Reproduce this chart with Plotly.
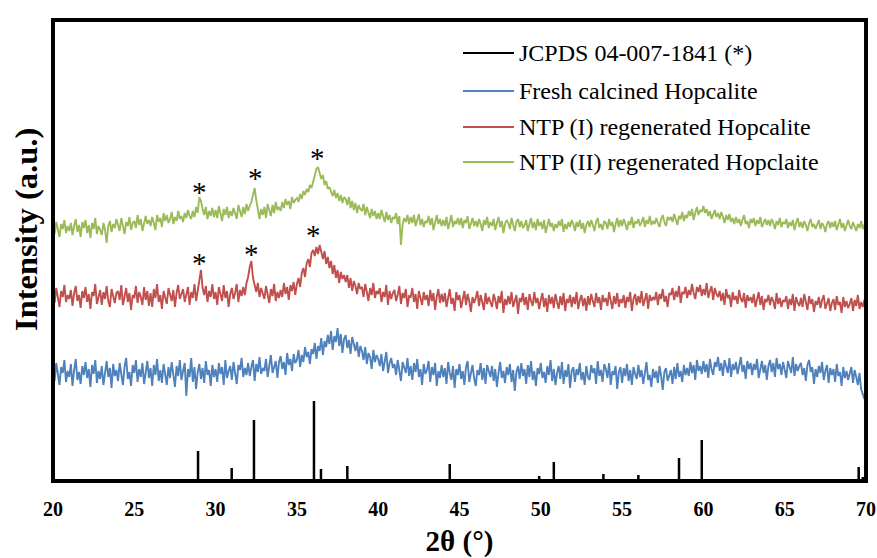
import numpy as np
import plotly.graph_objects as go

# 2-theta sampling grid (degrees), 0.1 degree step
two_theta = np.round(np.arange(20.0, 70.0001, 0.1), 1)

# JCPDS 04-007-1841 reference lines (position, relative height)
jcpds_pos = [28.92, 30.99, 32.36, 36.05, 36.48, 38.1, 44.4, 49.9, 50.8, 53.85, 56.0,
             58.5, 59.9, 60.8, 63.3, 64.6, 65.4, 67.8, 69.55, 69.8]
jcpds_int = [30, 13, 61, 80, 12, 15, 17, 5, 19, 7, 6, 23, 41, 2, 2, 2, 1.5, 2, 14, 4]

fresh = [
    112,100,118,105,96,114,108,121,99,110,
    104,117,95,111,122,101,109,97,115,106,
    119,103,112,94,116,107,121,98,110,102,
    115,96,108,120,104,113,93,117,105,111,
    100,118,107,96,114,123,102,109,95,116,
    108,121,99,112,104,118,97,110,120,103,
    113,95,116,106,122,100,111,98,117,107,
    96,114,103,119,108,94,115,105,121,101,
    110,118,85,112,104,123,99,114,92,109,
    117,102,113,98,120,106,111,95,116,104,
    112,99,118,107,114,96,121,103,110,115,
    101,119,108,97,116,111,123,104,113,106,
    118,105,114,121,100,117,109,124,107,113,
    110,122,104,118,126,108,115,120,103,119,
    125,112,119,106,128,116,122,110,127,118,
    121,131,114,126,119,134,124,129,117,132,
    127,138,122,135,130,143,126,140,134,146,
    137,150,131,145,139,153,135,147,128,142,
    146,133,141,127,144,136,130,139,124,135,
    130,121,134,117,128,124,112,131,119,126,
    122,115,127,110,120,129,108,118,123,113,
    117,106,121,111,100,119,114,108,123,105,
    115,101,118,109,122,104,112,96,117,107,
    111,120,99,114,106,118,95,110,103,116,
    104,113,97,119,108,101,115,93,112,106,
    117,102,110,96,114,120,99,108,116,103,
    95,111,106,118,101,113,97,116,109,104,
    115,100,112,94,108,119,103,110,98,114,
    106,117,99,111,90,109,115,102,118,105,
    112,97,116,104,120,101,110,95,113,107,
    118,103,109,98,115,106,121,100,112,96,
    108,115,102,119,97,111,104,117,93,110,
    114,99,112,106,118,101,109,96,115,104,
    101,116,108,113,97,120,105,111,99,117,
    112,103,118,96,110,106,115,92,109,114,
    98,113,105,117,100,111,96,114,107,102,
    116,104,111,97,108,119,101,106,94,112,
    103,110,98,115,105,91,109,113,100,107,
    111,97,114,102,118,104,110,99,116,106,
    113,105,119,108,116,101,121,110,115,107,
    120,109,117,103,122,112,106,119,114,124,
    110,118,105,121,113,108,123,104,117,111,
    119,107,115,124,109,116,102,120,112,118,
    106,117,111,122,103,114,120,108,116,101,
    115,121,109,118,104,123,112,117,106,119,
    111,103,120,114,108,124,105,117,110,115,
    118,106,113,100,116,121,109,114,97,112,
    104,115,108,119,101,110,116,98,113,106,
    112,99,117,105,109,95,114,103,110,101,
    107,114,98,111,104,96,108,92,87,82,
    84,
]

ntp1 = [
    187,178,193,181,174,190,184,196,179,186,
    182,191,175,188,195,180,186,173,190,183,
    194,179,187,172,189,185,197,177,184,191,
    176,189,182,195,180,174,192,186,178,188,
    190,181,196,176,185,193,179,188,171,186,
    183,195,178,189,184,176,194,181,190,175,
    188,174,192,183,197,179,186,172,190,184,
    177,193,185,180,191,174,188,196,182,187,
    192,179,186,194,176,189,183,197,180,191,
    205,211,193,186,195,179,190,184,197,182,
    189,176,194,185,180,196,183,190,174,187,
    193,182,188,197,179,191,185,194,186,198,
    204,214,220,203,195,189,198,184,193,187,
    182,195,188,178,192,185,197,180,189,183,
    191,184,198,187,194,181,196,190,199,186,
    197,203,194,208,213,204,218,222,214,228,
    231,225,234,227,236,229,222,230,217,224,
    213,220,207,216,203,211,198,209,202,206,
    199,206,193,203,190,200,195,187,198,192,
    194,184,197,189,180,193,186,198,183,190,
    187,193,179,189,184,196,176,190,182,188,
    191,180,186,195,177,188,183,192,174,185,
    184,193,179,187,172,190,182,176,189,181,
    186,175,191,180,188,171,184,192,178,187,
    179,188,174,185,192,177,183,170,189,181,
    186,173,182,190,176,187,180,169,184,178,
    183,190,175,186,179,171,188,177,184,180,
    174,187,181,172,185,178,190,168,182,176,
    185,177,189,174,181,186,167,183,179,188,
    176,184,171,187,180,175,189,178,183,172,
    181,188,174,183,169,186,177,184,173,187,
    179,172,185,176,188,170,182,178,186,174,
    184,177,189,172,181,186,175,183,170,185,
    176,187,180,174,188,178,184,171,186,179,
    183,175,189,181,172,185,177,188,174,182,
    178,186,173,184,179,189,170,182,187,176,
    185,178,190,175,183,188,172,186,180,184,
    181,189,176,187,182,192,179,185,174,188,
    186,193,181,190,184,195,178,189,187,194,
    183,191,186,197,188,182,194,189,196,185,
    192,186,198,183,190,195,181,193,187,184,
    190,180,188,176,192,183,186,174,189,181,
    185,177,191,182,179,188,173,186,180,184,
    178,187,174,183,189,176,185,171,182,179,
    186,176,184,180,172,188,177,183,174,181,
    179,185,172,182,176,187,170,184,178,175,
    183,174,187,179,171,185,177,182,169,180,
    176,184,173,181,186,172,179,183,170,178,
    182,171,185,176,179,168,184,174,180,173,
    177,183,170,181,175,186,172,179,174,181,
    176,
]

ntp2 = [
    254,247,259,250,244,257,252,261,248,255,
    250,258,246,255,262,249,256,244,259,253,
    261,248,256,243,258,252,263,247,255,251,
    246,258,251,238,255,260,249,257,253,262,
    256,250,263,254,247,259,255,264,251,258,
    260,253,266,256,262,250,258,265,257,261,
    255,264,258,251,266,259,263,254,268,260,
    266,258,262,269,257,264,260,270,262,265,
    259,268,263,271,265,262,270,264,274,268,
    284,280,272,266,274,262,270,265,273,264,
    271,263,275,267,260,272,266,274,263,270,
    265,273,268,262,276,269,264,274,267,277,
    270,275,279,286,293,281,270,262,272,266,
    274,263,277,270,265,276,268,279,271,274,
    270,279,273,282,276,280,272,284,278,281,
    283,279,287,282,290,286,292,289,296,293,
    299,304,312,314,308,302,306,296,300,292,
    294,289,285,291,283,288,280,286,278,284,
    282,276,284,273,280,271,278,268,276,272,
    270,277,266,274,268,263,272,265,270,262,
    268,262,271,264,259,269,261,266,258,264,
    262,268,257,265,236,256,263,259,266,257,
    264,258,266,255,261,267,256,262,254,260,
    258,265,256,263,251,260,266,257,262,255,
    261,255,264,252,259,266,254,260,257,263,
    256,263,253,261,258,265,252,259,263,255,
    260,254,262,257,250,261,256,264,253,259,
    255,262,251,258,264,254,260,248,257,261,
    258,252,263,256,250,259,262,254,260,253,
    256,261,250,257,263,253,259,251,262,255,
    259,252,261,248,256,262,254,258,250,257,
    253,260,255,262,249,257,252,259,254,261,
    257,250,259,254,261,252,258,248,256,260,
    254,261,256,250,259,263,253,257,251,260,
    258,252,262,255,259,249,257,263,254,261,
    255,262,257,251,260,256,264,253,259,258,
    262,255,259,264,254,261,257,265,256,260,
    257,263,258,254,262,266,259,255,264,261,
    264,259,267,261,256,265,262,269,260,266,
    263,270,265,272,261,268,274,266,271,269,
    275,268,272,265,270,262,267,271,264,268,
    262,269,264,258,266,261,267,259,263,257,
    264,258,262,255,261,266,257,260,253,262,
    258,263,255,261,257,264,254,259,262,256,
    261,255,262,258,252,260,256,263,254,259,
    257,262,253,259,255,261,251,258,263,254,
    259,253,260,256,250,258,262,254,257,252,
    256,261,252,258,255,249,257,260,253,259,
    254,260,251,257,262,253,258,250,256,261,
    255,252,259,254,250,257,253,260,252,256,
    255,
]

# asterisk markers (2theta, intensity) for the identified reflections
star_green_x = [29.04, 32.47, 36.28]
star_green_y = [289, 303, 323]
star_red_x = [28.98, 32.2, 36.05]
star_red_y = [218, 227, 246]

series_names = ["JCPDS 04-007-1841 (*)", "Fresh calcined Hopcalite",
                "NTP (I) regenerated Hopcalite", "NTP (II) regenerated Hopclaite"]
colors = ["#000000", "#4F81BD", "#C0504D", "#9BBB59"]

FONT = "Liberation Serif, Times New Roman, serif"

X_RANGE = [20, 70]
Y_RANGE = [0, 461]

# legend rows (paper y of each entry centre)
legend_rows_y = [0.9284, 0.8460, 0.7679, 0.6920]

# stick pattern
sx, sy = [], []
for p, h in zip(jcpds_pos, jcpds_int):
    sx += [p, p, None]
    sy += [0, h, None]

fig = go.Figure()
fig.add_trace(go.Scatter(x=sx, y=sy, mode="lines", name=series_names[0],
                         line=dict(color=colors[0], width=2.5), showlegend=False))
for nm, col, vals in zip(series_names[1:], colors[1:], [fresh, ntp1, ntp2]):
    fig.add_trace(go.Scatter(x=two_theta, y=vals, mode="lines", name=nm,
                             line=dict(color=col, width=1.9), showlegend=False))

anns = []
shapes = [
    dict(type="rect", xref="paper", yref="paper", x0=0, x1=1, y0=0, y1=1,
         line=dict(color="black", width=2), layer="above"),
    dict(type="rect", xref="paper", yref="paper", x0=0.0012, x1=0.9988, y0=0.002, y1=0.998,
         line=dict(color="black", width=2), layer="above"),
]
for xs, ys in [(star_green_x, star_green_y), (star_red_x, star_red_y)]:
    for x, y in zip(xs, ys):
        anns.append(dict(x=x, y=y, xref="x", yref="y", text="*", showarrow=False,
                         font=dict(family=FONT, size=29, color="black"),
                         xanchor="center", yanchor="middle"))
# y-axis title
anns.append(dict(x=-0.033, y=0.545, xref="paper", yref="paper",
                 text="<b>Intensity (a.u.)</b>", textangle=-90, showarrow=False,
                 font=dict(family=FONT, size=32.5, color="black"),
                 xanchor="center", yanchor="middle"))
# legend (text + line sample per series)
for nm, col, ly in zip(series_names, colors, legend_rows_y):
    anns.append(dict(x=0.5705, y=ly, xref="paper", yref="paper", text=nm,
                     showarrow=False, xanchor="left", yanchor="middle",
                     font=dict(family=FONT, size=24, color="black")))
    shapes.append(dict(type="line", xref="paper", yref="paper", x0=0.5043, x1=0.5670,
                       y0=ly, y1=ly, line=dict(color=col, width=2)))

fig.update_layout(
    width=877, height=558,
    margin=dict(l=53, r=11, t=20, b=77, autoexpand=False),
    paper_bgcolor="white", plot_bgcolor="white",
    font=dict(family=FONT, color="black"),
    showlegend=False,
    annotations=anns,
    shapes=shapes,
    xaxis=dict(range=X_RANGE, dtick=5, tick0=20, showgrid=False, zeroline=False,
               showline=True, linecolor="black", linewidth=2, mirror=True,
               automargin=False, ticks="", ticklabelstandoff=9,
               tickprefix="<b>", ticksuffix="</b>",
               tickfont=dict(family=FONT, size=20, color="black"),
               title=dict(text="<b>2θ (°)</b>", font=dict(family=FONT, size=29, color="black"),
                          standoff=14)),
    yaxis=dict(range=Y_RANGE, showticklabels=False, showgrid=False, zeroline=False,
               showline=True, linecolor="black", linewidth=2, mirror=True,
               ticks="", automargin=False),
)

fig.write_html("out.html")
